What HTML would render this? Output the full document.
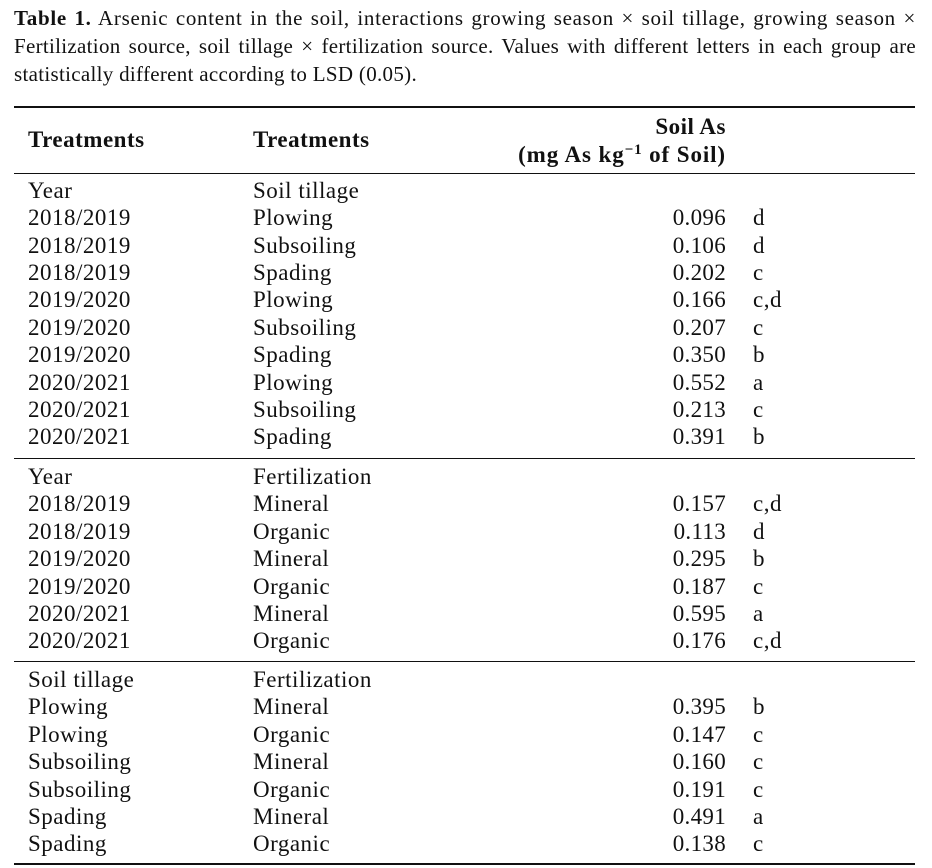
<!DOCTYPE html>
<html><head><meta charset="utf-8"><style>
body{margin:0;width:932px;height:868px;background:#fff;position:relative;overflow:hidden;font-family:"Liberation Serif",serif;color:#111}
.cap{position:absolute;left:14px;font-size:21px;white-space:nowrap;line-height:28px;letter-spacing:0.3px}
.j{width:902px;text-align:justify;text-align-last:justify;white-space:normal;letter-spacing:0.7px}
.r{position:absolute;font-size:23px;line-height:28px;white-space:nowrap;letter-spacing:0.5px}
.h{position:absolute;background:#111;left:14px;width:901px}
b{font-weight:bold}
.v{text-align:right;width:100px;left:626px;letter-spacing:0.3px}
</style></head><body>
<div class="cap j" style="top:4px"><b>Table 1.</b> Arsenic content in the soil, interactions growing season × soil tillage, growing season ×</div>
<div class="cap j" style="top:32px;letter-spacing:0.3px">Fertilization source, soil tillage × fertilization source. Values with different letters in each group are</div>
<div class="cap" style="top:60px">statistically different according to LSD (0.05).</div>
<div class="h" style="top:106px;height:2px"></div>
<div class="r" style="top:126px;left:28px"><b>Treatments</b></div>
<div class="r" style="top:126px;left:253px"><b>Treatments</b></div>
<div class="r" style="top:113px;left:526px;width:200px;text-align:right"><b>Soil As</b></div>
<div class="r" style="top:141px;left:426px;width:300px;text-align:right;letter-spacing:0.9px"><b>(mg As kg<sup style="font-size:15px;vertical-align:8px;line-height:0">−1</sup> of Soil)</b></div>
<div class="h" style="top:173px;height:1px"></div>
<div class="h" style="top:458px;height:1px"></div>
<div class="h" style="top:661px;height:1px"></div>
<div class="h" style="top:863px;height:2px"></div>
<div id="rows"></div>
<script>
var data=[
["Year","Soil tillage","",""],
["2018/2019","Plowing","0.096","d"],
["2018/2019","Subsoiling","0.106","d"],
["2018/2019","Spading","0.202","c"],
["2019/2020","Plowing","0.166","c,d"],
["2019/2020","Subsoiling","0.207","c"],
["2019/2020","Spading","0.350","b"],
["2020/2021","Plowing","0.552","a"],
["2020/2021","Subsoiling","0.213","c"],
["2020/2021","Spading","0.391","b"],
["Year","Fertilization","",""],
["2018/2019","Mineral","0.157","c,d"],
["2018/2019","Organic","0.113","d"],
["2019/2020","Mineral","0.295","b"],
["2019/2020","Organic","0.187","c"],
["2020/2021","Mineral","0.595","a"],
["2020/2021","Organic","0.176","c,d"],
["Soil tillage","Fertilization","",""],
["Plowing","Mineral","0.395","b"],
["Plowing","Organic","0.147","c"],
["Subsoiling","Mineral","0.160","c"],
["Subsoiling","Organic","0.191","c"],
["Spading","Mineral","0.491","a"],
["Spading","Organic","0.138","c"]];
var centers=[];
for(var i=0;i<10;i++)centers.push(191+27.35*i);
for(var i=0;i<7;i++)centers.push(477+27.4*i);
for(var i=0;i<7;i++)centers.push(680+27.4*i);
var h="";
data.forEach(function(d,i){var t=(centers[i]-14).toFixed(1);
h+='<div class="r" style="top:'+t+'px;left:28px">'+d[0]+'</div>';
h+='<div class="r" style="top:'+t+'px;left:253px">'+d[1]+'</div>';
h+='<div class="r v" style="top:'+t+'px">'+d[2]+'</div>';
h+='<div class="r" style="top:'+t+'px;left:753px">'+d[3]+'</div>';});
document.getElementById("rows").innerHTML=h;
</script>
</body></html>
